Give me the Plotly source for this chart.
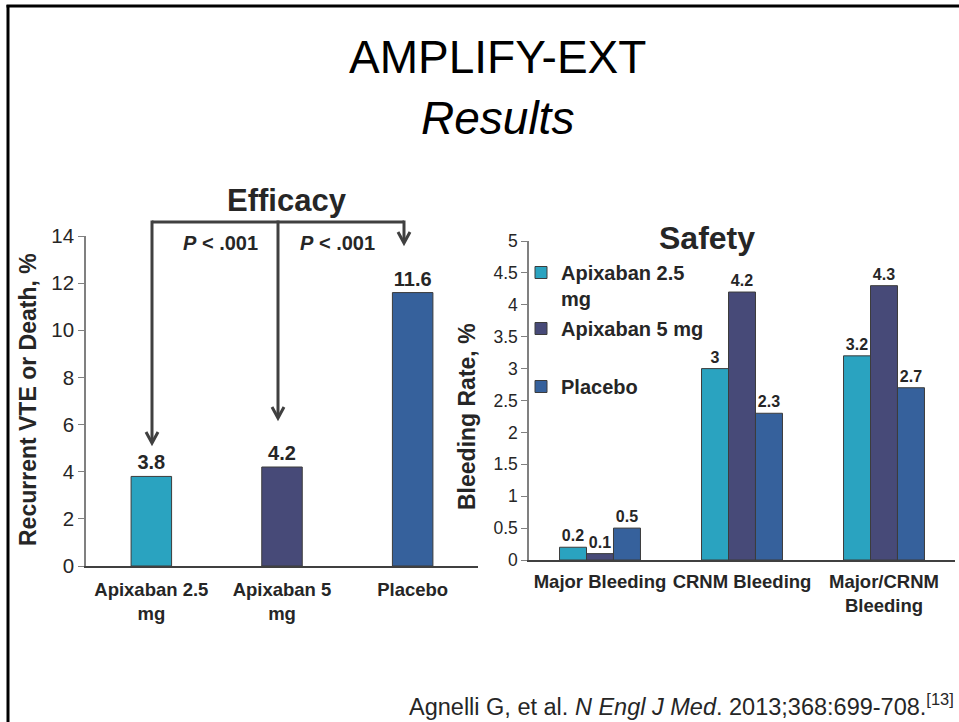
import plotly.graph_objects as go

# ---- data ----
efficacy_groups = ["Apixaban 2.5<br>mg", "Apixaban 5<br>mg", "Placebo"]
efficacy_values = [3.8, 4.2, 11.6]

safety_categories = ["Major Bleeding", "CRNM Bleeding", "Major/CRNM<br>Bleeding"]
series_names = ["Apixaban 2.5<br>mg", "Apixaban 5 mg", "Placebo"]
apixaban_25 = [0.2, 3.0, 3.2]
apixaban_5 = [0.1, 4.2, 4.3]
placebo = [0.5, 2.3, 2.7]

efficacy_ticks = [0, 2, 4, 6, 8, 10, 12, 14]
safety_ticks = [0, 0.5, 1, 1.5, 2, 2.5, 3, 3.5, 4, 4.5, 5]

# ---- styling ----
W, H = 959, 722
FONT = "Liberation Sans, Arial, sans-serif"
TEAL, NAVY, BLUE = "#2aa3c0", "#474a78", "#36619c"
EDGE = "#3c3c3c"
DARK = "#404040"
TXT = "#262626"


def px(x):
    return x / W


def py(y):
    return 1 - y / H


fig = go.Figure()

# Efficacy bars
fig.add_trace(go.Bar(
    x=efficacy_groups, y=efficacy_values,
    marker=dict(color=[TEAL, NAVY, BLUE], line=dict(color=EDGE, width=1)),
    width=0.31,
    text=[f"{v:g}" for v in efficacy_values], textposition="outside",
    textfont=dict(family=FONT, size=20, color=TXT),
    texttemplate="<b>%{text}</b>", cliponaxis=False,
    showlegend=False, xaxis="x", yaxis="y",
))

# Safety grouped bars, one legend box per series
legend_ids = ["legend", "legend2", "legend3"]
for name, vals, col, lg in zip(series_names, [apixaban_25, apixaban_5, placebo],
                               [TEAL, NAVY, BLUE], legend_ids):
    fig.add_trace(go.Bar(
        x=safety_categories, y=vals, name=f"<b>{name.replace('<br>', '</b><br><b>')}</b>",
        marker=dict(color=col, line=dict(color=EDGE, width=1)),
        text=[f"{v:g}" for v in vals], textposition="outside",
        texttemplate="<b>%{text}</b>",
        textfont=dict(family=FONT, size=16, color=TXT),
        cliponaxis=False, xaxis="x2", yaxis="y2", legend=lg,
    ))

y_common = dict(
    showgrid=False, zeroline=False, ticks="outside", ticklen=6,
    tickcolor="#808080", linecolor="#808080", linewidth=1.5, showline=True,
    automargin=False,
)
x_common = dict(
    range=[-0.5, 2.5], showgrid=False, showline=True, linecolor=DARK,
    linewidth=1.5, ticks="", automargin=False,
    tickfont=dict(family=FONT, size=18.5, color=TXT),
    tickprefix="<b>", ticksuffix="</b>",
)

legend_style = dict(
    font=dict(family=FONT, size=20, color=TXT),
    bgcolor="rgba(0,0,0,0)", xanchor="left", yanchor="top",
    itemclick=False, itemdoubleclick=False, valign="top", tracegroupgap=0,
)

fig.update_layout(
    width=W, height=H,
    margin=dict(l=0, r=0, t=0, b=0, autoexpand=False),
    paper_bgcolor="white", plot_bgcolor="white",
    font=dict(family=FONT, color=TXT),
    bargap=0.43, bargroupgap=0,
    xaxis=dict(domain=[px(86), px(478)], anchor="y", ticklabelstandoff=6, **x_common),
    yaxis=dict(domain=[py(566), py(236)], anchor="x", range=[0, 14],
               tickvals=efficacy_ticks,
               tickfont=dict(family=FONT, size=20.5, color=TXT), **y_common),
    xaxis2=dict(domain=[px(529), px(955)], anchor="y2", ticklabelstandoff=4, **x_common),
    yaxis2=dict(domain=[py(560), py(241)], anchor="x2", range=[0, 5],
                tickvals=safety_ticks,
                tickfont=dict(family=FONT, size=17.5, color=TXT), **y_common),
    legend=dict(x=px(521), y=py(253), **legend_style),
    legend2=dict(x=px(521), y=py(309), **legend_style),
    legend3=dict(x=px(521), y=py(367), **legend_style),
)

annotations = [
    dict(x=px(497), y=py(57), text="AMPLIFY-EXT", font=dict(size=46, color="black")),
    dict(x=px(497), y=py(118), text="<i>Results</i>", font=dict(size=46, color="black")),
    dict(x=px(287), y=py(200), text="<b>Efficacy</b>", font=dict(size=31, color=TXT)),
    dict(x=px(707), y=py(238), text="<b>Safety</b>", font=dict(size=32, color=TXT)),
    dict(x=px(220), y=py(243), text="<b><i>P</i> < .001</b>", font=dict(size=20, color=TXT)),
    dict(x=px(337), y=py(243), text="<b><i>P</i> < .001</b>", font=dict(size=20, color=TXT)),
    dict(x=px(28), y=py(400), text="<b>Recurrent VTE or Death, %</b>", textangle=-90,
         font=dict(size=23, color=TXT)),
    dict(x=px(467), y=py(417), text="<b>Bleeding Rate, %</b>", textangle=-90,
         font=dict(size=23, color=TXT)),
    dict(x=px(956), y=py(705), xanchor="right",
         text="Agnelli G, et al. <i>N Engl J Med</i>. 2013;368:699-708.<sup>[13]</sup>",
         font=dict(size=23.5, color=TXT)),
]
for a in annotations:
    a.setdefault("xref", "paper")
    a.setdefault("yref", "paper")
    a.setdefault("showarrow", False)
    a.setdefault("xanchor", "center")
    a.setdefault("yanchor", "middle")
    a["font"]["family"] = FONT
fig.update_layout(annotations=annotations)

# Comparison bracket with open arrowheads
bracket_y = 222
arrows = [(152, 443), (278, 418), (404, 243)]
shapes = [dict(type="line", xref="paper", yref="paper",
               x0=px(152), x1=px(404), y0=py(bracket_y), y1=py(bracket_y),
               line=dict(color=DARK, width=3))]
for ax, tip in arrows:
    shapes.append(dict(type="line", xref="paper", yref="paper",
                       x0=px(ax), x1=px(ax), y0=py(bracket_y - 1.5), y1=py(tip - 1),
                       line=dict(color=DARK, width=3)))
    path = (f"M{px(ax - 6)},{py(tip - 11)} L{px(ax)},{py(tip)} "
            f"L{px(ax + 6)},{py(tip - 11)}")
    shapes.append(dict(type="path", xref="paper", yref="paper", path=path,
                       line=dict(color=DARK, width=3)))

# Frame lines along the top and left edges
shapes.append(dict(type="line", xref="paper", yref="paper",
                   x0=px(6.5), x1=1, y0=py(6), y1=py(6),
                   line=dict(color="black", width=3)))
shapes.append(dict(type="line", xref="paper", yref="paper",
                   x0=px(8), x1=px(8), y0=py(5), y1=0,
                   line=dict(color="black", width=3)))
fig.update_layout(shapes=shapes)

fig.write_html("out.html")
